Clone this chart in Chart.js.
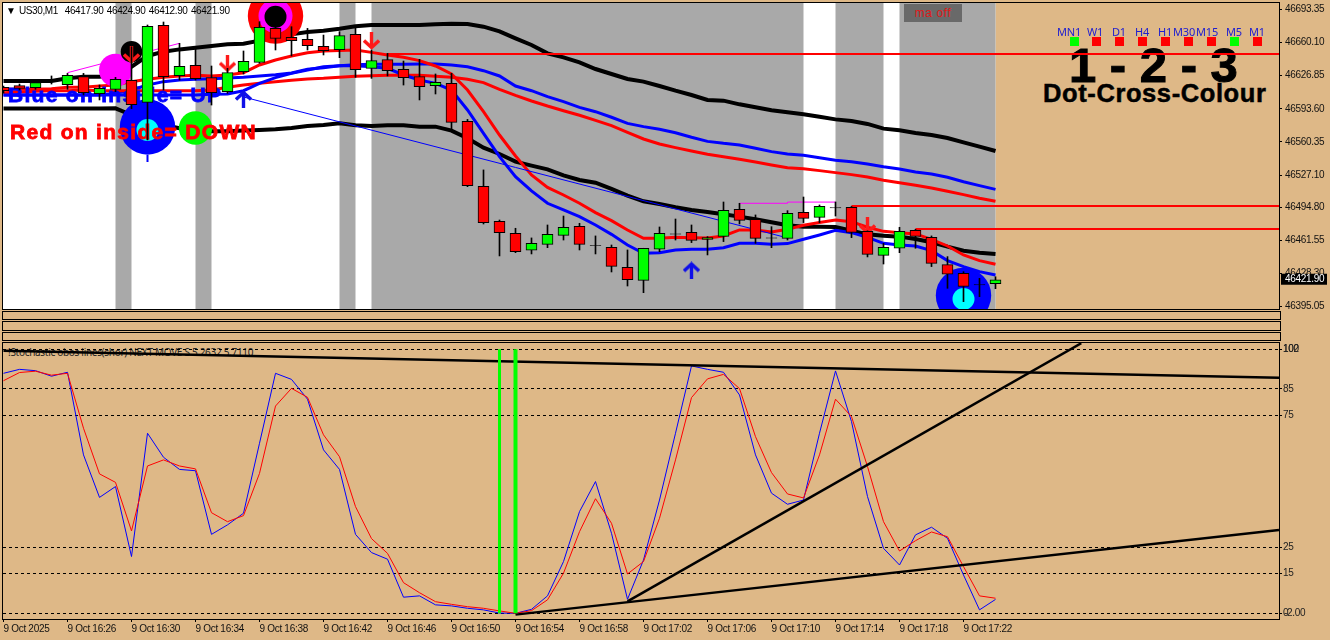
<!DOCTYPE html>
<html>
<head>
<meta charset="utf-8">
<title>US30,M1</title>
<script src="https://cdn.jsdelivr.net/npm/chart.js@4/dist/chart.umd.min.js"></script>
<style>
  html, body { margin:0; padding:0; width:1330px; height:640px; overflow:hidden; background:#DEB887; }
  canvas { position:absolute; left:0; z-index:1; }
  .panel { position:absolute; left:2px; width:1277px; border:1px solid #000; box-sizing:content-box; }
  .txt { position:absolute; white-space:nowrap; font-family:"Liberation Sans",sans-serif; }
  #header { left:6px; top:5px; font-size:10px; color:#000; z-index:3; letter-spacing:-.38px; word-spacing:1px; }
  #stoch-title { left:8px; top:345px; font-size:10px; color:#222; z-index:0; font-family:"Noto Sans",sans-serif; letter-spacing:-.3px; }
  #maoff { left:904px; top:4px; width:58px; height:18px; line-height:18px; background:#696969; color:#e01818; font-size:12px; text-align:center; z-index:3; letter-spacing:.6px; }
  #big { left:1069px; top:35px; font-size:49px; font-weight:bold; color:#000; -webkit-text-stroke:1px #000; z-index:0; line-height:60px; }
  #sub { left:1043px; top:78px; font-size:25.5px; font-weight:bold; color:#000; -webkit-text-stroke:.5px #000; z-index:0; line-height:30px; letter-spacing:.6px; }
  .tf { font-size:11px; color:#2020d0; transform:translateX(-50%); top:24px; z-index:3; font-family:"Noto Sans",sans-serif; letter-spacing:-.2px; }
  .sq { position:absolute; top:37px; width:9px; height:9px; z-index:3; }
</style>
</head>
<body>
<div class="panel" style="top:311px;height:7px"></div>
<div class="panel" style="top:321px;height:8px"></div>
<div class="panel" style="top:332px;height:7px"></div>
<div class="txt" id="big">1&nbsp;-&nbsp;2&nbsp;-&nbsp;3</div>
<div class="txt" id="sub">Dot-Cross-Colour</div>
<div class="txt" id="stoch-title">!Stochastic obos lines(shor) NEXT MOVE S 5.2632 5.7110</div>
<div class="txt" id="header">▼ US30,M1&nbsp; 46417.90 46424.90 46412.90 46421.90</div>
<div class="txt" id="maoff">ma off</div>
<canvas id="price" width="1330" height="310" style="top:0"></canvas>
<canvas id="stoch" width="1330" height="300" style="top:340px"></canvas>
<script>
// ─── Candles, one per minute from 16:22 ──────────────────────────────────────
const opens  = [46615.2,46616.9,46614.8,46622.5,46617.9,46625.9,46608.8,46613.2,46622.2,46600.1,46677.5,46626.9,46637.3,46624.9,46610.8,46630.9,46640.3,46674.4,46665.4,46663.4,46656.4,46653.0,46668.4,46634.3,46643.0,46633.3,46625.9,46616.9,46619.2,46581.0,46515.7,46480.6,46468.5,46451.5,46457.5,46466.5,46475.6,46456.2,46454.5,46434.4,46421.3,46452.5,46467.9,46469.5,46462.5,46465.5,46492.6,46482.6,46463.9,46463.5,46489.6,46484.6,46494.3,46494.7,46470.5,46446.4,46453.5,46471.6,46464.5,46437.1,46428.4,46417.0,46417.9];
const closes = [46611.8,46614.2,46619.9,46622.1,46627.2,46609.8,46614.2,46623.2,46597.8,46676.5,46625.9,46636.3,46623.9,46609.8,46629.9,46641.3,46675.4,46664.4,46662.1,46657.0,46652.0,46667.1,46632.9,46642.0,46631.9,46624.9,46615.9,46620.2,46580.0,46516.4,46479.3,46469.2,46450.1,46458.5,46467.5,46474.6,46457.5,46456.0,46435.4,46422.0,46453.5,46468.5,46467.7,46461.5,46464.2,46491.6,46481.6,46463.5,46463.7,46488.6,46483.6,46495.7,46494.1,46469.5,46447.4,46454.5,46470.5,46465.5,46438.4,46427.4,46415.3,46416.8,46421.9];
const highs  = [46616.5,46618.5,46622.5,46626.6,46629.2,46629.2,46617.5,46625.2,46656.0,46677.8,46680.8,46659.4,46653.3,46636.6,46634.3,46651.7,46681.1,46682.8,46676.1,46674.4,46667.7,46671.1,46676.1,46652.7,46649.3,46641.6,46643.3,46628.6,46629.2,46583.0,46532.2,46481.9,46473.6,46463.9,46476.9,46485.9,46478.6,46465.9,46456.8,46451.8,46453.5,46474.9,46482.9,46476.9,46465.2,46500.0,46498.7,46487.0,46475.2,46491.3,46505.0,46497.0,46500.0,46495.5,46471.0,46458.5,46474.6,46472.6,46465.9,46445.1,46430.0,46423.3,46424.9];
const lows   = [46609.2,46612.5,46613.2,46618.5,46613.2,46607.5,46602.5,46610.8,46593.8,46562.3,46612.5,46622.5,46622.5,46597.4,46609.2,46628.6,46639.3,46652.7,46646.7,46652.7,46647.7,46645.0,46625.2,46624.2,46626.6,46617.5,46602.5,46608.5,46573.0,46515.4,46477.9,46445.8,46449.1,46447.8,46454.1,46461.8,46451.8,46447.8,46429.7,46415.6,46408.9,46450.1,46461.8,46459.2,46446.8,46460.2,46477.9,46458.5,46454.1,46461.8,46479.3,46479.3,46485.9,46464.2,46444.8,46437.7,46449.1,46453.5,46435.1,46413.3,46399.9,46404.9,46412.9];

// ─── Moving average envelopes ────────────────────────────────────────────────
const blackUpper = [46621.5,46621.5,46621.5,46621.5,46624.2,46625.9,46625.9,46627.6,46635.9,46646.7,46651.0,46653.3,46655.0,46656.7,46658.4,46659.0,46662.1,46666.7,46668.4,46670.8,46672.1,46674.1,46676.5,46677.8,46677.8,46677.8,46677.8,46678.5,46679.1,46678.8,46676.1,46671.4,46664.4,46657.7,46649.3,46645.3,46640.3,46633.6,46628.6,46623.6,46620.9,46616.5,46611.8,46607.5,46602.5,46601.8,46598.1,46595.1,46592.1,46590.1,46588.1,46585.7,46583.0,46581.4,46578.4,46573.7,46572.0,46569.3,46567.3,46564.3,46559.9,46555.6,46551.2];
const blackLower = [46593.8,46593.8,46593.8,46593.8,46593.8,46593.8,46593.8,46594.1,46587.4,46582.4,46577.3,46574.0,46571.7,46571.0,46571.0,46571.7,46572.3,46573.0,46574.3,46576.3,46577.3,46579.0,46577.0,46576.3,46577.0,46577.0,46575.7,46575.7,46571.7,46564.0,46554.6,46548.2,46540.5,46536.5,46532.8,46526.8,46522.1,46519.4,46513.1,46506.4,46500.7,46498.0,46494.7,46492.0,46490.0,46487.6,46485.3,46482.6,46479.6,46476.6,46475.2,46475.2,46474.9,46471.2,46467.5,46466.2,46465.2,46462.8,46459.5,46455.1,46451.1,46449.1,46447.8];
const blueSlow   = [46607.5,46607.5,46607.5,46607.5,46607.5,46607.5,46607.5,46609.2,46612.5,46617.5,46620.9,46622.5,46623.2,46623.9,46624.6,46625.2,46626.6,46627.9,46629.6,46633.3,46634.9,46636.9,46637.9,46638.3,46638.3,46638.3,46638.6,46638.6,46637.6,46635.9,46631.9,46626.6,46616.5,46611.8,46605.8,46600.8,46595.1,46590.7,46585.1,46579.0,46575.7,46573.0,46569.6,46565.0,46560.9,46558.9,46557.3,46553.9,46550.6,46548.2,46546.9,46544.5,46541.9,46540.5,46538.2,46535.5,46533.2,46530.1,46528.1,46524.8,46520.4,46516.4,46512.7];
const redSlow    = [46609.8,46610.5,46611.2,46611.8,46611.8,46612.5,46611.8,46611.8,46611.8,46611.8,46611.8,46611.8,46611.8,46612.5,46615.2,46617.5,46619.2,46620.9,46622.2,46623.6,46624.2,46625.2,46626.2,46626.9,46627.2,46627.2,46627.2,46626.2,46625.2,46623.2,46619.9,46613.2,46607.1,46601.5,46596.4,46591.7,46587.1,46582.0,46576.7,46570.0,46563.3,46558.3,46554.6,46551.2,46547.9,46545.5,46542.9,46540.2,46537.2,46534.5,46533.5,46531.5,46529.5,46527.5,46525.1,46521.8,46519.4,46516.8,46514.1,46510.7,46507.4,46503.7,46500.7];
const redFast    = [46613.2,46613.2,46613.2,46613.8,46615.2,46615.2,46616.5,46617.5,46620.9,46623.2,46625.2,46626.6,46627.2,46626.6,46627.6,46629.9,46637.6,46642.6,46646.7,46650.0,46651.7,46652.3,46652.7,46650.3,46647.7,46645.3,46642.0,46636.6,46628.6,46612.5,46590.7,46567.3,46546.2,46527.1,46514.7,46507.0,46498.7,46489.3,46481.3,46471.9,46463.5,46463.5,46464.5,46464.2,46463.9,46465.9,46471.9,46471.9,46469.9,46472.6,46476.6,46479.3,46481.9,46480.2,46474.6,46470.5,46469.2,46467.9,46462.5,46455.8,46446.8,46441.1,46437.4];
const blueFast   = [46607.5,46607.5,46607.5,46607.5,46607.5,46607.5,46607.5,46607.5,46607.5,46607.5,46607.5,46607.5,46607.5,46608.2,46608.5,46611.8,46619.2,46624.9,46629.2,46632.6,46635.9,46636.9,46636.9,46635.9,46634.3,46627.6,46622.5,46619.2,46612.5,46592.4,46569.0,46545.5,46525.5,46511.1,46498.7,46492.0,46485.3,46476.9,46467.5,46456.8,46448.5,46449.1,46451.8,46452.5,46452.5,46454.1,46458.5,46458.5,46457.5,46458.2,46462.5,46466.9,46471.6,46469.2,46464.5,46458.5,46456.8,46455.8,46451.1,46441.1,46435.1,46430.0,46426.7];

// ─── Stochastic ──────────────────────────────────────────────────────────────
const stochMain   = [90.9,92.4,91.9,89.8,91.3,60.0,43.9,48.0,21.5,68.2,59.1,54.5,54.0,29.9,33.5,37.9,64.4,90.9,88.6,81.1,61.9,54.5,29.9,23.0,20.5,6.1,6.6,3.2,2.8,1.9,1.3,0.1,0,1.5,6.6,19.6,38.5,49.9,30.3,5.3,20.2,42.9,68.2,93.7,92.4,91.3,82.7,60.0,45.5,41.3,42.9,68.2,91.8,72.6,44.2,24.6,18.3,29.7,32.6,28.4,14.5,1.3,5.26];
const stochSignal = [88.1,91.2,91.7,90.2,90.9,70.1,52.8,49.6,31.2,55.8,58.1,55.8,54.7,38.1,34.7,37.0,53.0,78.5,85.2,81.8,67.6,59.3,40.4,28.3,22.7,11.6,7.8,4.4,3.4,2.5,1.9,0.9,0,1.0,5.1,15.2,30.9,43.4,34.1,14.9,19.6,36.0,58.1,81.7,88.8,90.5,85.1,66.9,53.3,45.2,43.7,60.0,81.1,74.5,55.6,34.7,23.6,27.5,30.8,29.0,17.7,6.6,5.71];

// ─── Axes ────────────────────────────────────────────────────────────────────
const priceTicks = [46693.35,46660.10,46626.85,46593.60,46560.35,46527.10,46494.80,46461.55,46428.30,46395.05];
const stochTicks = [100,85,75,25,15,0];
const timeIdx    = [0,4,8,12,16,20,24,28,32,36,40,44,48,52,56,60];
const timeLabels = ['9 Oct 2025','9 Oct 16:26','9 Oct 16:30','9 Oct 16:34','9 Oct 16:38','9 Oct 16:42','9 Oct 16:46','9 Oct 16:50','9 Oct 16:54','9 Oct 16:58','9 Oct 17:02','9 Oct 17:06','9 Oct 17:10','9 Oct 17:14','9 Oct 17:18','9 Oct 17:22'];

// ─── Session shading, in bar numbers ─────────────────────────────────────────
const grayFrom = [7,12,21,23,52,56];
const grayTo   = [8,13,22,50,55,62];

// ─── Objects on the price chart ──────────────────────────────────────────────
const dotIdx   = [9,9,7,8,12,17,17,17,60,60];
const dotPrice = [46575.3,46572.3,46632.3,46651.0,46574.3,46686.8,46686.8,46686.1,46406.1,46402.6];
const dotSize  = [27.7,11,16.5,10.8,16.7,27.7,17,11,27.7,11];
const dotColor = ['#0000ff','#00ffff','#ff00ff','#000000','#00ff00','#ff0000','#ff00ff','#000000','#0000ff','#00ffff'];

const downIdx   = [14,23,8,54];
const downPrice = [46639.1,46661.7,46647.7,46475.9];
const upIdx     = [15,43];
const upPrice   = [46603.5,46431.2];

const levelFrom  = [24,53,57];
const levelPrice = [46648.7,46496.0,46472.9];

const tfNames = ['MN1','W1','D1','H4','H1','M30','M15','M5','M1'];
const tfUp    = [true,false,false,false,false,false,false,true,false];
const tfText  = [1069,1095,1119,1142,1165,1184,1207,1234,1257];
const tfBox   = [1070,1092,1115,1138,1161,1184,1207,1230,1253];

tfNames.forEach((n,i) => {
  const t = document.createElement('div');
  t.className = 'txt tf'; t.textContent = n; t.style.left = tfText[i]+'px';
  document.body.appendChild(t);
  const s = document.createElement('div');
  s.className = 'sq'; s.style.left = tfBox[i]+'px';
  s.style.background = tfUp[i] ? '#00ff00' : '#ff0000';
  document.body.appendChild(s);
});

const FONT = { family:'"Liberation Sans",sans-serif', size:10 };
const X_MIN = -0.03125, X_MAX = 79.71875;   // 16px per bar, plot from x=3 to x=1279
const xy = arr => arr.map((v,i) => ({x:i, y:v}));

function makeArrow(color, up) {
  const c = document.createElement('canvas');
  c.width = 17; c.height = 18;
  const g = c.getContext('2d');
  g.strokeStyle = color; g.lineWidth = 3.4;
  if (!up) { g.translate(0,18); g.scale(1,-1); }
  g.beginPath(); g.moveTo(8.5,18); g.lineTo(8.5,2); g.stroke();
  g.beginPath(); g.moveTo(1,9.5); g.lineTo(8.5,2.5); g.lineTo(16,9.5); g.stroke();
  return c;
}

function line(label, data, color, width, order) {
  return { type:'line', label, data, borderColor:color, borderWidth:width, pointRadius:0, tension:0, fill:false, order };
}

// shading + frame
const framePlugin = {
  id:'frame',
  beforeDraw(chart) { chart.ctx.letterSpacing = '-0.3px'; },
  beforeDatasetsDraw(chart) {
    const {ctx, chartArea:a, scales:{x}} = chart;
    if (chart.canvas.id !== 'price') return;
    ctx.save();
    ctx.fillStyle = '#fff';
    ctx.fillRect(a.left, a.top, x.getPixelForValue(opens.length-1)-a.left, a.bottom-a.top);
    ctx.fillStyle = '#A9A9A9';
    grayFrom.forEach((f,i) => {
      const l = x.getPixelForValue(f);
      ctx.fillRect(l, a.top, x.getPixelForValue(grayTo[i])-l, a.bottom-a.top);
    });
    ctx.restore();
  },
  beforeDatasetDraw(chart, args) {
    if (chart.data.datasets[args.index].label !== 'wicks') return;
    const ctx = chart.ctx;
    ctx.save();
    ctx.font = 'bold 21px "Liberation Sans",sans-serif';
    ctx.letterSpacing = '1.3px';
    ctx.textAlign = 'left'; ctx.textBaseline = 'alphabetic';
    ctx.lineWidth = 0.8;
    ctx.fillStyle = ctx.strokeStyle = '#0000ff';
    ctx.fillText('Blue on inside= UP', 8, 102); ctx.strokeText('Blue on inside= UP', 8, 102);
    ctx.fillStyle = ctx.strokeStyle = '#ff0000';
    ctx.fillText('Red on inside= DOWN', 10, 139); ctx.strokeText('Red on inside= DOWN', 10, 139);
    ctx.restore();
  },
  afterDraw(chart) {
    const {ctx, chartArea:a, scales:{y}} = chart;
    ctx.save();
    ctx.strokeStyle = '#000'; ctx.lineWidth = 1;
    ctx.strokeRect(a.left-0.5, a.top-0.5, a.right-a.left+1, a.bottom-a.top+1);
    ctx.font = '10px "Liberation Sans",sans-serif';
    ctx.textBaseline = 'middle'; ctx.textAlign = 'left';
    if (chart.canvas.id === 'price') {
      const last = closes[closes.length-1], py = y.getPixelForValue(last);
      ctx.fillStyle = '#000'; ctx.fillRect(1281, py-6, 46, 11);
      ctx.fillStyle = '#fff'; ctx.fillText(last.toFixed(2), 1285, py);
    } else {
      ctx.fillStyle = '#222';
      ctx.fillText('102', 1283, y.getPixelForValue(100));
      ctx.fillText('-2.00', 1284, y.getPixelForValue(0));
    }
    ctx.restore();
  }
};

// axis sizes are fixed so the plot edges stay where the reference has them
function fixY(s) { s.width = 51; s.paddingTop = 0; s.paddingBottom = 0; }
function fixX(s) { s.height = 21; s.paddingLeft = 0; s.paddingRight = 0; }

// ─── Price chart ─────────────────────────────────────────────────────────────
const bodyColor = opens.map((o,i) => Math.abs(o-closes[i]) < 0.5 ? '#000' : (closes[i] > o ? '#00ff00' : '#ff0000'));

new Chart(document.getElementById('price').getContext('2d'), {
  type:'line',
  data:{ datasets:[
    line('black upper', xy(blackUpper), '#000', 4, 60),
    line('black lower', xy(blackLower), '#000', 4, 60),
    line('blue slow',   xy(blueSlow),   '#0000ff', 3, 58),
    line('red slow',    xy(redSlow),    '#ff0000', 3, 57),
    line('blue fast',   xy(blueFast),   '#0000ff', 3, 56),
    line('red fast',    xy(redFast),    '#ff0000', 3, 55),
    line('trend blue',  [{x:15,y:46605.5},{x:49,y:46463.9}], '#0000ff', 1, 50),
    line('trend magenta', [{x:4,y:46629.9},{x:11,y:46659.4}], '#ff00ff', 1, 50),
    line('peak magenta',  [{x:46,y:46498.7},{x:49,y:46498.7},{x:49,y:46499.9},{x:52,y:46499.9}], '#ff00ff', 1, 50),
    ...levelFrom.map((f,i) => line('level '+i, [{x:f,y:levelPrice[i]},{x:X_MAX,y:levelPrice[i]}], '#ff0000', 2, 45)),
    { type:'scatter', label:'dots', data:dotIdx.map((k,i)=>({x:k,y:dotPrice[i]})), pointRadius:dotSize, pointBackgroundColor:dotColor, pointBorderWidth:0, order:40 },
    line('dot tick', [{x:9,y:46547.2},{x:9,y:46540.2}], '#0000ff', 2, 39),
    { type:'scatter', label:'down', data:downIdx.map((k,i)=>({x:k,y:downPrice[i]})), pointStyle:makeArrow('#ff1a1a',false), order:30 },
    { type:'scatter', label:'up',   data:upIdx.map((k,i)=>({x:k,y:upPrice[i]})),     pointStyle:makeArrow('#1010e8',true),  order:30 },
    { type:'bar', label:'wicks', data:highs.map((h,i)=>({x:i,y:[lows[i],h]})), backgroundColor:'#000', barThickness:1, grouped:false, order:10 },
    { type:'bar', label:'bodies', data:opens.map((o,i)=>({x:i,y:[o,closes[i]]})), backgroundColor:bodyColor, borderColor:'#000', borderWidth:1, borderSkipped:false, barThickness:11, grouped:false, order:5 }
  ]},
  options:{
    responsive:false, animation:false, events:[], devicePixelRatio:1,
    layout:{ autoPadding:false, padding:{left:3, top:3, bottom:1, right:0} },
    plugins:{ legend:{display:false}, tooltip:{enabled:false} },
    scales:{
      x:{ type:'linear', min:X_MIN, max:X_MAX, offset:false, display:false, grid:{offset:false} },
      y:{ type:'linear', position:'right', min:46392.5, max:46699.9,
          afterFit:fixY,
          afterBuildTicks(s){ s.ticks = priceTicks.map(v=>({value:v})); },
          grid:{ drawOnChartArea:false, color:'#000', tickLength:3 },
          border:{ color:'#000' },
          ticks:{ color:'#111', font:FONT, padding:3, autoSkip:false, callback:v=>v.toFixed(2) } }
    }
  },
  plugins:[framePlugin]
});

// ─── Stochastic window ───────────────────────────────────────────────────────
new Chart(document.getElementById('stoch').getContext('2d'), {
  type:'line',
  data:{ datasets:[
    line('main',   xy(stochMain),   '#0000ff', 1, 20),
    line('signal', xy(stochSignal), '#ff0000', 1, 19),
    line('trend top',   [{x:0,y:99.4},{x:X_MAX,y:89.2}], '#000', 2.5, 10),
    line('trend low',   [{x:32,y:-0.5},{x:X_MAX,y:31.6}], '#000', 2.5, 10),
    line('trend steep', [{x:39,y:4.5},{x:67.36,y:102.3}], '#000', 2.5, 10),
    line('mark a', [{x:31,y:100},{x:31,y:0}], '#00ff00', 3, 5),
    line('mark b', [{x:32,y:100},{x:32,y:0}], '#00ff00', 4, 5)
  ]},
  options:{
    responsive:false, animation:false, events:[], devicePixelRatio:1,
    layout:{ autoPadding:false, padding:{left:3, top:3, right:0, bottom:0} },
    plugins:{ legend:{display:false}, tooltip:{enabled:false} },
    scales:{
      x:{ type:'linear', min:X_MIN, max:X_MAX, offset:false,
          afterFit:fixX,
          afterBuildTicks(s){ s.ticks = timeIdx.map(v=>({value:v})); },
          grid:{ drawOnChartArea:false, color:'#000', tickLength:3, offset:false },
          border:{ color:'#000' },
          ticks:{ color:'#111', font:FONT, align:'start', maxRotation:0, autoSkip:false, padding:1,
                  callback:v=>timeLabels[timeIdx.indexOf(v)] } },
      y:{ type:'linear', position:'right', min:-2.16, max:102.38,
          afterFit:fixY,
          afterBuildTicks(s){ s.ticks = stochTicks.map(v=>({value:v})); },
          grid:{ color:'#000', lineWidth:1, tickLength:3 },
          border:{ color:'#000', dash:[3,3] },
          ticks:{ color:'#222', font:FONT, padding:1, autoSkip:false } }
    }
  },
  plugins:[framePlugin]
});
</script>
</body>
</html>
